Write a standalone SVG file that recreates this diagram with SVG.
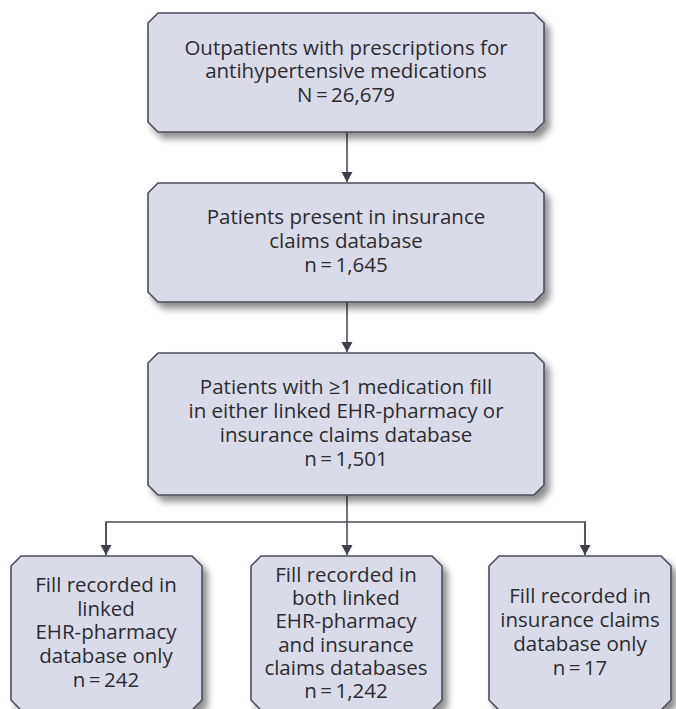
<svg xmlns="http://www.w3.org/2000/svg" width="676" height="709" viewBox="0 0 676 709">
<defs>
<style>
.box{fill:#dadbe8;stroke:#4b4e5a;stroke-width:1.6;filter:url(#sh)}
.t{font-family:"Open Sans","Noto Sans","Liberation Sans",sans-serif;font-size:20.5px;fill:#2c2c30;text-anchor:middle}
.c{fill:none;stroke:#4b4e5a;stroke-width:1.6}
</style>
<filter id="sh" x="-10%" y="-10%" width="125%" height="130%">
<feGaussianBlur in="SourceAlpha" stdDeviation="3.5"/>
<feOffset dx="5" dy="6" result="b"/>
<feComponentTransfer><feFuncA type="linear" slope="0.45"/></feComponentTransfer>
<feMerge><feMergeNode/><feMergeNode in="SourceGraphic"/></feMerge>
</filter>
<marker id="ah" viewBox="0 0 10 14" refX="10" refY="7" markerWidth="10" markerHeight="14" markerUnits="userSpaceOnUse" orient="auto">
<path d="M0,1.5 L14,7 L0,12.5 Z" fill="#3e414b" transform="scale(0.72,1)"/>
</marker>
</defs>
<rect width="676" height="709" fill="#ffffff"/>
<g id="connectors">
<line class="c" x1="347" y1="132" x2="347" y2="182" marker-end="url(#ah)"/>
<line class="c" x1="347" y1="302" x2="347" y2="352" marker-end="url(#ah)"/>
<line class="c" x1="347" y1="495" x2="347" y2="522"/>
<polyline class="c" points="106,555 106,522 585,522 585,555"/>
<line class="c" x1="106" y1="522" x2="106" y2="555" marker-end="url(#ah)"/>
<line class="c" x1="347" y1="522" x2="347" y2="555" marker-end="url(#ah)"/>
<line class="c" x1="585" y1="522" x2="585" y2="555" marker-end="url(#ah)"/>
</g>
<g id="n1">
<path class="box" d="M158,13 H534 L544,23 V122 L534,132 H158 L148,122 V23 Z"/>
<text class="t" x="346" y="55">Outpatients with prescriptions for</text>
<text class="t" x="346" y="78">antihypertensive medications</text>
<text class="t" x="346" y="102">N&#8201;=&#8201;26,679</text>
</g>
<g id="n2">
<path class="box" d="M158,183 H534 L544,193 V292 L534,302 H158 L148,292 V193 Z"/>
<text class="t" x="346" y="224">Patients present in insurance</text>
<text class="t" x="346" y="248">claims database</text>
<text class="t" x="346" y="272">n&#8201;=&#8201;1,645</text>
</g>
<g id="n3">
<path class="box" d="M158,353 H534 L544,363 V485 L534,495 H158 L148,485 V363 Z"/>
<text class="t" x="346" y="394">Patients with ≥1 medication fill</text>
<text class="t" x="346" y="418">in either linked EHR-pharmacy or</text>
<text class="t" x="346" y="442">insurance claims database</text>
<text class="t" x="346" y="466">n&#8201;=&#8201;1,501</text>
</g>
<g id="n4">
<path class="box" d="M21,556 H192 L202,566 V700 L192,710 H21 L11,700 V566 Z"/>
<text class="t" x="106" y="592">Fill recorded in</text>
<text class="t" x="106" y="616">linked</text>
<text class="t" x="106" y="639">EHR-pharmacy</text>
<text class="t" x="106" y="663">database only</text>
<text class="t" x="106" y="687">n&#8201;=&#8201;242</text>
</g>
<g id="n5">
<path class="box" d="M261,556 H432 L442,566 V700 L432,710 H261 L251,700 V566 Z"/>
<text class="t" x="346" y="582">Fill recorded in</text>
<text class="t" x="346" y="605">both linked</text>
<text class="t" x="346" y="628">EHR-pharmacy</text>
<text class="t" x="346" y="652">and insurance</text>
<text class="t" x="346" y="675">claims databases</text>
<text class="t" x="346" y="698">n&#8201;=&#8201;1,242</text>
</g>
<g id="n6">
<path class="box" d="M499,556 H661 L671,566 V700 L661,710 H499 L489,700 V566 Z"/>
<text class="t" x="580" y="603">Fill recorded in</text>
<text class="t" x="580" y="627">insurance claims</text>
<text class="t" x="580" y="651">database only</text>
<text class="t" x="580" y="675">n&#8201;=&#8201;17</text>
</g>
</svg>
